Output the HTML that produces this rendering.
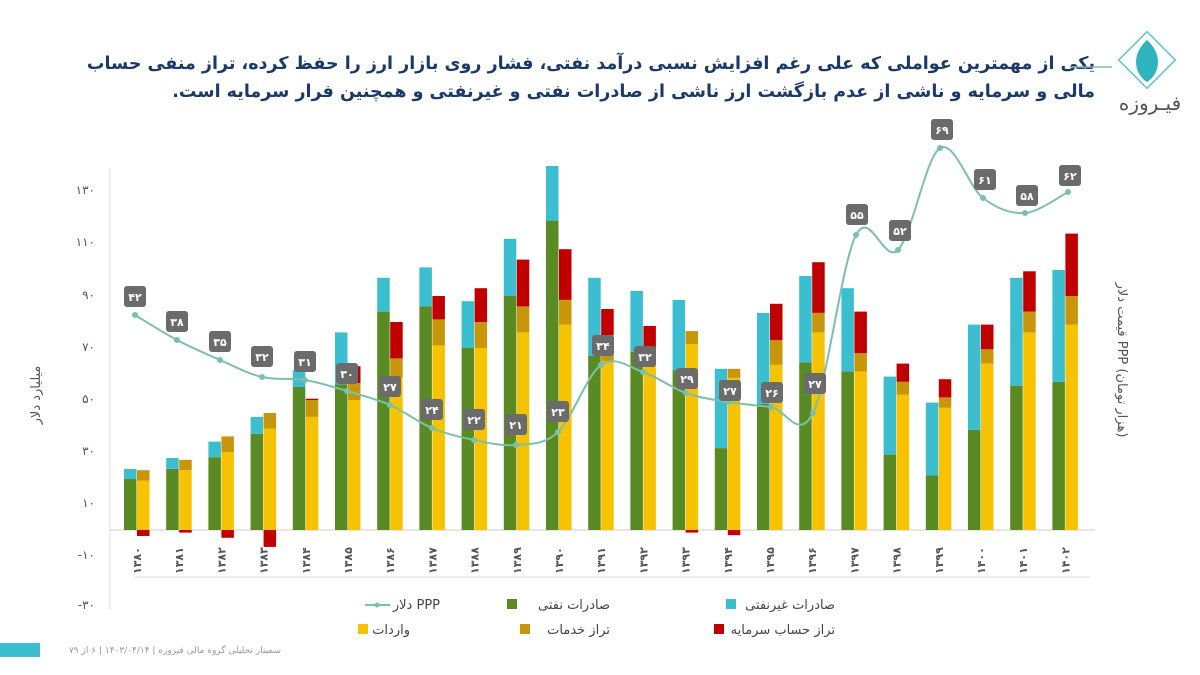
<!DOCTYPE html>
<html><head><meta charset="utf-8">
<style>
html,body{margin:0;padding:0;background:#fff;}
body{width:1200px;height:675px;overflow:hidden;position:relative;font-family:"Liberation Sans","Noto Sans CJK SC",sans-serif;}
.title{position:absolute;right:105px;top:50px;width:1050px;direction:rtl;text-align:right;color:#1b3a6b;font-size:17.5px;font-weight:bold;line-height:28px;white-space:nowrap;font-family:"DejaVu Sans",sans-serif;}
svg text{font-family:"DejaVu Sans","Liberation Sans",sans-serif;}
</style></head><body>
<div class="title">یکی از مهمترین عواملی که علی رغم افزایش نسبی درآمد نفتی، فشار روی بازار ارز را حفظ کرده، تراز منفی حساب<br>مالی و سرمایه و ناشی از عدم بازگشت ارز ناشی از صادرات نفتی و غیرنفتی و همچنین فرار سرمایه است.</div>
<svg width="1200" height="675" style="position:absolute;left:0;top:0">
<line x1="1070" y1="67" x2="1112" y2="67" stroke="#7fb8c8" stroke-width="1.5"/>
<rect x="1127" y="40" width="40" height="40" fill="none" stroke="#5fc4cc" stroke-width="1.5" transform="rotate(45 1147 60)"/>
<path d="M1147 40 C1130 55 1135 75 1147 82 C1159 75 1164 55 1147 40Z" fill="#2fb3bf"/>
<text x="1150" y="110" font-size="20" fill="#555" text-anchor="middle">فیـروزه</text>
<line x1="110" y1="168" x2="110" y2="610" stroke="#ddd"/>
<line x1="110" y1="530" x2="1095" y2="530" stroke="#ccc"/>
<line x1="135" y1="577" x2="1090" y2="577" stroke="#ddd"/>
<g font-size="12" fill="#555" text-anchor="end">
<text x="95" y="194">۱۳۰</text><text x="95" y="246">۱۱۰</text><text x="95" y="299">۹۰</text><text x="95" y="351">۷۰</text><text x="95" y="403">۵۰</text><text x="95" y="455">۳۰</text><text x="95" y="507">۱۰</text><text x="95" y="559">-۱۰</text><text x="95" y="609">-۳۰</text>
</g>
<text transform="translate(40,395) rotate(-90)" font-size="13" fill="#555" text-anchor="middle">میلیارد دلار</text>
<text transform="translate(1118,360) rotate(90)" font-size="13" fill="#555" text-anchor="middle">قیمت دلار PPP (هزار تومان)</text>
<g id="bars"></g>
<g font-size="11" fill="#555" font-weight="bold" id="yrs"></g>
<path id="ppp" fill="none" stroke="#7cc0ab" stroke-width="2"/>
<g id="pts"></g>
<g font-size="11" fill="#fff" font-weight="bold" text-anchor="middle" id="lbls">
<text x="135" y="301">۴۲</text><text x="177" y="326">۳۸</text><text x="220" y="346">۳۵</text><text x="262" y="361">۳۲</text><text x="305" y="366">۳۱</text><text x="347" y="378">۳۰</text><text x="390" y="391">۲۷</text><text x="432" y="414">۲۴</text><text x="474" y="424">۲۲</text><text x="516" y="429">۲۱</text><text x="558" y="416">۲۳</text><text x="603" y="350">۳۴</text><text x="645" y="361">۳۲</text><text x="687" y="383">۲۹</text><text x="730" y="395">۲۷</text><text x="772" y="397">۲۶</text><text x="815" y="388">۲۷</text><text x="857" y="219">۵۵</text><text x="900" y="235">۵۲</text><text x="942" y="134">۶۹</text><text x="985" y="184">۶۱</text><text x="1027" y="200">۵۸</text><text x="1070" y="180">۶۲</text>
</g>
<g font-size="13" fill="#444" text-anchor="end">
<line x1="365" y1="605" x2="390" y2="605" stroke="#7cc0ab" stroke-width="2"/><circle cx="377" cy="605" r="2.5" fill="#7cc0ab"/>
<text x="440" y="609">دلار PPP</text>
<rect x="507" y="599" width="10" height="10" fill="#5a8a23"/><text x="610" y="609">صادرات نفتی</text>
<rect x="726" y="599" width="10" height="10" fill="#3bbfd0"/><text x="835" y="609">صادرات غیرنفتی</text>
<rect x="358" y="624" width="10" height="10" fill="#f7c200"/><text x="410" y="634">واردات</text>
<rect x="520" y="624" width="10" height="10" fill="#c8960a"/><text x="610" y="634">تراز خدمات</text>
<rect x="714" y="624" width="10" height="10" fill="#c00000"/><text x="835" y="634">تراز حساب سرمایه</text>
</g>
<rect x="0" y="643" width="40" height="14" fill="#3bbfd0"/>
<text x="175" y="653" font-size="9" fill="#999" text-anchor="middle">سمینار تحلیلی گروه مالی فیروزه | ۱۴۰۳/۰۴/۱۴ | ۶ از ۷۹</text>
</svg>
<svg width="0" height="0" style="position:absolute">
<text id="t0">۱۳۸۰</text><text>۱۳۸۱</text><text>۱۳۸۲</text><text>۱۳۸۳</text><text>۱۳۸۴</text><text>۱۳۸۵</text><text>۱۳۸۶</text><text>۱۳۸۷</text><text>۱۳۸۸</text><text>۱۳۸۹</text><text>۱۳۹۰</text><text>۱۳۹۱</text><text>۱۳۹۲</text><text>۱۳۹۳</text><text>۱۳۹۴</text><text>۱۳۹۵</text><text>۱۳۹۶</text><text>۱۳۹۷</text><text>۱۳۹۸</text><text>۱۳۹۹</text><text>۱۴۰۰</text><text>۱۴۰۱</text><text>۱۴۰۲</text>
</svg>
<script>
var d=[[19.6,23.5,19,23,-2.3],[23.5,27.7,23,27,-1],[28,34,30,36,-3],[37,43.5,39,45,-6.5],[55,61.5,43.5,50,50.5],[56,76,50,56.5,63],[84,97,58.5,66,80],[86,101,71,81,90],[70,88,70,80,93],[90,112,76,86,104],[119,140,79,88.5,108],[67,97,65,75,85],[68.5,92,63.5,69,78.5],[61.5,88.5,71.5,76.5,-1],[31.5,62,58.5,62,-2],[48.5,83.5,63.5,73,87],[64.5,97.7,76,83.5,103],[61,93,61,68,84],[29,59,52,57,64],[21,49,47,51,58],[38.5,79,64,69.5,79],[55.5,97,76,84,99.5],[57,100,79,90,114]];
var ns="http://www.w3.org/2000/svg",g=document.getElementById('bars');
function Y(v){return 530-2.6*v}
function r(x,a,b,c){var e=document.createElementNS(ns,'rect');var y1=Math.min(Y(a),Y(b)),y2=Math.max(Y(a),Y(b));e.setAttribute('x',x);e.setAttribute('y',y1);e.setAttribute('width',12.5);e.setAttribute('height',y2-y1);e.setAttribute('fill',c);g.appendChild(e);}
d.forEach(function(v,i){var c=137+42.2*i;r(c-13,0,v[0],'#5a8a23');r(c-13,v[0],v[1],'#3bbfd0');r(c,0,v[2],'#f7c200');r(c,v[2],v[3],'#c8960a');if(v[4]<0)r(c,0,v[4],'#c00000');else r(c,v[3],v[4],'#c00000');});
var yrs=document.getElementById('yrs');
var src=document.getElementById('t0').parentNode.querySelectorAll('text');
Array.prototype.forEach.call(src,function(t,i){var c=137+42.2*i;var e=document.createElementNS(ns,'text');e.setAttribute('transform','translate('+(c+4)+',574) rotate(-90)');e.textContent=t.textContent;yrs.appendChild(e);});
var p=[[135,315],[177,340],[220,360],[262,377],[305,380],[347,391],[390,405],[432,428],[474,440],[516,445],[558,432],[601,365],[643,372],[686,393],[728,402],[771,407],[813,413],[856,235],[898,250],[940,148],[983,198],[1025,213],[1068,192]];
var s='M'+p[0];for(var i=0;i<p.length-1;i++){var p0=p[i-1]||p[i],p1=p[i],p2=p[i+1],p3=p[i+2]||p2;s+=' C'+(p1[0]+(p2[0]-p0[0])/6)+','+(p1[1]+(p2[1]-p0[1])/6)+' '+(p2[0]-(p3[0]-p1[0])/6)+','+(p2[1]-(p3[1]-p1[1])/6)+' '+p2;}
document.getElementById('ppp').setAttribute('d',s);
var pts=document.getElementById('pts'),L=document.getElementById('lbls');
p.forEach(function(q){var c=document.createElementNS(ns,'circle');c.setAttribute('cx',q[0]);c.setAttribute('cy',q[1]);c.setAttribute('r',3);c.setAttribute('fill','#7cc0ab');pts.appendChild(c);});
Array.prototype.forEach.call(L.querySelectorAll('text'),function(t){var x=+t.getAttribute('x'),y=+t.getAttribute('y');var b=document.createElementNS(ns,'rect');b.setAttribute('x',x-11);b.setAttribute('y',y-15);b.setAttribute('width',22);b.setAttribute('height',21);b.setAttribute('rx',3);b.setAttribute('fill','#6b6b6b');L.parentNode.insertBefore(b,L);});
</script>
</body></html>
